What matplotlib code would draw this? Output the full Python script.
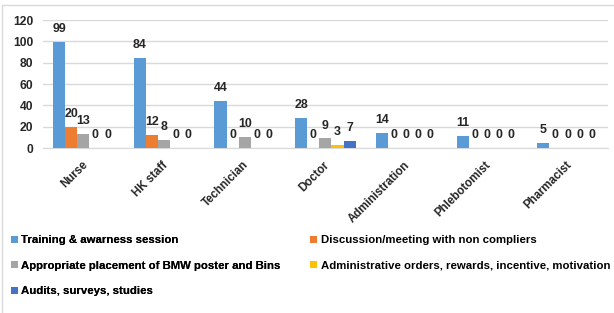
import numpy as np, matplotlib
matplotlib.use('Agg'); import matplotlib.pyplot as plt
from matplotlib.patches import Rectangle

categories = ['Nurse', 'HK staff', 'Technician', 'Doctor', 'Administration', 'Phlebotomist', 'Pharmacist']
series_names = ['Training & awarness session', 'Discussion/meeting with non compliers',
                'Appropriate placement of BMW poster and Bins',
                'Administrative orders, rewards, incentive, motivation', 'Audits, surveys, studies']
training   = [99, 84, 44, 28, 14, 11, 5]
discussion = [20, 12, 0, 0, 0, 0, 0]
placement  = [13, 8, 10, 9, 0, 0, 0]
admin      = [0, 0, 0, 3, 0, 0, 0]
audits     = [0, 0, 0, 7, 0, 0, 0]
yticks = [0, 20, 40, 60, 80, 100, 120]

values = [training, discussion, placement, admin, audits]
colors = ['#5B9BD5', '#ED7D31', '#A5A5A5', '#FFC000', '#4472C4']
fs = 8.2

plt.rcParams['font.family'] = ['Liberation Sans', 'DejaVu Sans']
fig = plt.figure(figsize=(6.14, 3.13), dpi=100)
ax = fig.add_axes([0.07, 0.527, 0.92, 0.409])
x = np.arange(len(categories)); w = 0.15
handles = []
for i, (v, c, n) in enumerate(zip(values, colors, series_names)):
    bars = ax.bar(x + (i - 2) * w, v, w, color=c, label=n, zorder=3)
    ax.bar_label(bars, padding=5, fontsize=8.9, fontweight='bold', color='#262626')
    handles.append(bars)

ax.set_xlim(-0.5, len(categories) - 0.5)
ax.set_ylim(0, 120)
ax.set_yticks(yticks)
ax.set_yticklabels([str(t) for t in yticks], fontsize=8.7, fontweight='bold', color='#262626')
ax.set_xticks(x + 0.03)
ax.set_xticklabels(categories, rotation=45, ha='right', va='center', rotation_mode='anchor',
                   fontsize=8.3, fontweight='bold', color='#262626')
ax.tick_params(axis='x', length=0, pad=11)
ax.tick_params(axis='y', length=0, pad=7)
ax.grid(axis='y', color='#D9D9D9', linewidth=1, zorder=0)
for s in ['top', 'right', 'left']:
    ax.spines[s].set_visible(False)
ax.spines['bottom'].set_color('#D9D9D9')

# legend laid out row-wise like the original: two separate columns
lkw = dict(loc='upper left', frameon=False, handlelength=0.6, handleheight=0.6,
           handletextpad=0.3, labelspacing=1.36, borderaxespad=0,
           prop={'weight': 'bold', 'size': fs})
leg1 = fig.legend([handles[k] for k in [0, 2, 4]], [series_names[k] for k in [0, 2, 4]],
                  bbox_to_anchor=(0.010, 0.263), **lkw)
fig.add_artist(leg1)
fig.legend([handles[k] for k in [1, 3]], [series_names[k] for k in [1, 3]],
           bbox_to_anchor=(0.498, 0.263), **lkw)
fig.patches.append(Rectangle((0.004, -0.01), 1.1, 0.995, transform=fig.transFigure,
                             fill=False, edgecolor='#D9D9D9', linewidth=1))
plt.savefig('out.png', dpi=100)
